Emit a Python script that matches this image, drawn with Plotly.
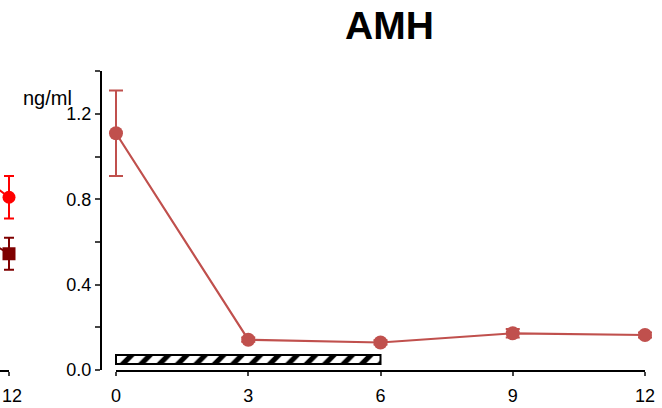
import plotly.graph_objects as go

# AMH time course (ng/ml) at each visit month
months = [0, 3, 6, 9, 12]
amh_mean = [1.11, 0.142, 0.129, 0.172, 0.164]
amh_err = [0.20, 0.01, 0.01, 0.02, 0.012]

# treatment period bar (months 0-6)
treat_start = [0]
treat_length = [6]
treat_level = [0.049]
treat_thickness = [0.042]

# neighbouring panel, last two visits of its two series
left_months = [9, 12]
left_circle = [1.27, 0.81]
left_circle_err = [0.0, 0.10]
left_square = [0.92, 0.545]
left_square_err = [0.0, 0.075]

W, H = 662, 408
FONT = "Liberation Sans, Arial, sans-serif"
AMH_RED = "#c0504d"
CLEAR = "rgba(0,0,0,0)"

# pixel geometry of the panel
x0_px, x12_px = 116, 645
y_zero_px, y_top_px = 370, 71.4
px_per_month = (x12_px - x0_px) / 12
pad = 0.3  # extra data room so markers/error bars at the ends are not clipped
left_edge_val = 12 - 9 / px_per_month

fig = go.Figure()

# empty traces so the drawn axes get their own subplots
for ax in ("x3", "x4"):
    fig.add_trace(go.Scatter(x=[], y=[], xaxis=ax, yaxis="y",
                             showlegend=False, hoverinfo="skip"))

fig.add_trace(go.Bar(
    x=treat_length, y=treat_level, base=treat_start, width=treat_thickness,
    orientation="h", xaxis="x", yaxis="y",
    marker=dict(color="white", line=dict(color="black", width=2),
                pattern=dict(shape="/", fgcolor="black", bgcolor="white",
                             size=13, solidity=0.4)),
    showlegend=False, hoverinfo="skip",
))

fig.add_trace(go.Scatter(
    x=months, y=amh_mean, mode="lines+markers", xaxis="x", yaxis="y",
    line=dict(color=AMH_RED, width=2.2),
    marker=dict(color=AMH_RED, size=14, symbol="circle"),
    error_y=dict(type="data", array=amh_err, color=AMH_RED, thickness=2, width=7),
    cliponaxis=False, showlegend=False,
))

fig.add_trace(go.Scatter(
    x=left_months, y=left_circle, mode="lines+markers", xaxis="x2", yaxis="y",
    line=dict(color="#ff0000", width=2),
    marker=dict(color="#ff0000", size=13, symbol="circle"),
    error_y=dict(type="data", array=left_circle_err, color="#ff0000", thickness=2, width=5),
    cliponaxis=False, showlegend=False,
))
fig.add_trace(go.Scatter(
    x=left_months, y=left_square, mode="lines+markers", xaxis="x2", yaxis="y",
    line=dict(color="#7f0000", width=2),
    marker=dict(color="#7f0000", size=13, symbol="square"),
    error_y=dict(type="data", array=left_square_err, color="#7f0000", thickness=2, width=5),
    cliponaxis=False, showlegend=False,
))

hidden = dict(showline=False, showticklabels=False, ticks="", showgrid=False,
              zeroline=False, automargin=False, anchor="y")
shown = dict(ticks="outside", ticklen=4, tickwidth=2, showline=True,
             linecolor="black", linewidth=2, showgrid=False, zeroline=False,
             automargin=False, anchor="y", tickfont=dict(size=18),
             ticklabeloverflow="allow", ticklabelstandoff=4)

fig.update_layout(
    template="none",
    width=W, height=H,
    margin=dict(l=0, r=0, t=0, b=0, pad=0),
    paper_bgcolor="white", plot_bgcolor=CLEAR,
    font=dict(family=FONT, size=18, color="black"),
    # data axes (slightly wider than the drawn axis lines)
    xaxis=dict(domain=[(x0_px - pad * px_per_month) / W, (x12_px + pad * px_per_month) / W],
               range=[-pad, 12 + pad], **hidden),
    xaxis2=dict(domain=[0, (9 + 20) / W],
                range=[left_edge_val, 12 + 20 / px_per_month], **hidden),
    # drawn axes
    xaxis3=dict(domain=[x0_px / W, x12_px / W], range=[0, 12], tickvals=months, **shown),
    xaxis4=dict(domain=[0, 9 / W], range=[left_edge_val, 12], tickvals=[12],
                ticklabelshift=3, **shown),
    yaxis=dict(
        domain=[(H - y_zero_px) / H, (H - y_top_px) / H], range=[0, 1.4],
        anchor="free", position=101 / W, automargin=False,
        tickvals=[0, 0.4, 0.8, 1.2], ticktext=["0.0", "0.4", "0.8", "1.2"],
        ticks="outside", ticklen=5, tickwidth=2,
        minor=dict(tickvals=[0.2, 0.6, 1.0, 1.4], ticks="outside", ticklen=5, tickwidth=2),
        showline=True, linecolor="black", linewidth=2,
        showgrid=False, zeroline=False, tickfont=dict(size=18),
    ),
    barmode="overlay",
    annotations=[
        dict(text="<b>AMH</b>", x=389 / W, y=1 - 25 / H, xref="paper", yref="paper",
             xanchor="center", yanchor="middle", showarrow=False,
             font=dict(family=FONT, size=39, color="black")),
        dict(text="ng/ml", x=74 / W, y=1 - 98 / H, xref="paper", yref="paper",
             xanchor="right", yanchor="middle", showarrow=False,
             font=dict(family=FONT, size=20, color="black")),
    ],
)

fig.write_html("out.html")
